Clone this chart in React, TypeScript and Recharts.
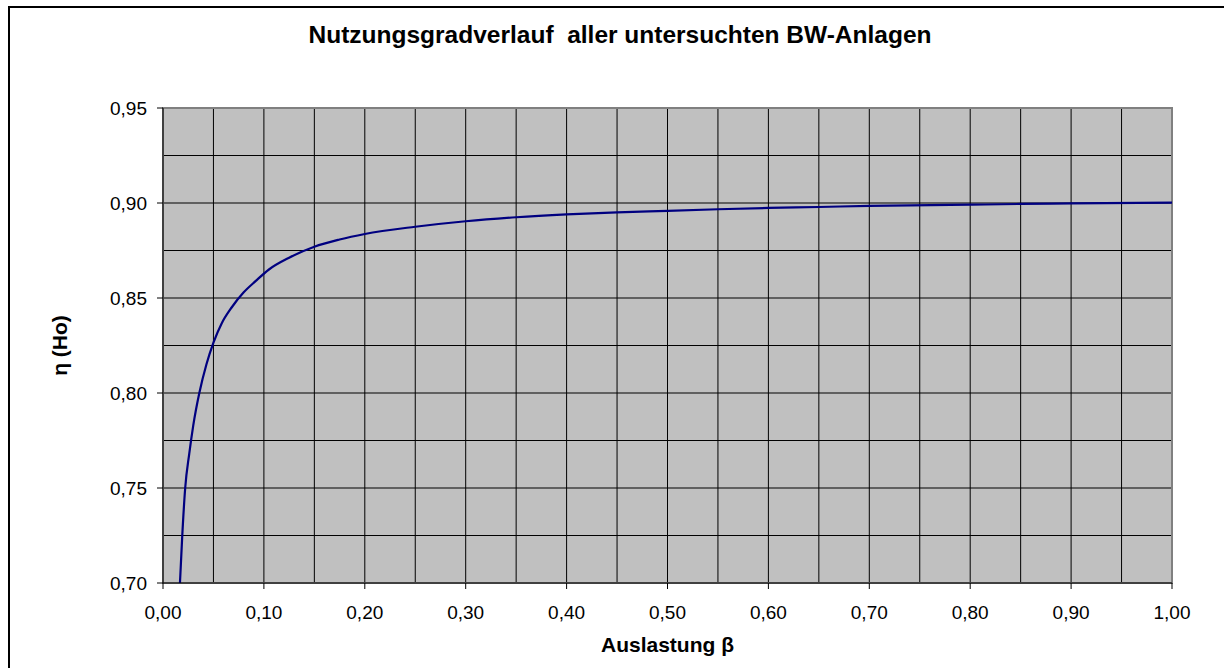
import React from 'react';
import { LineChart, Line, XAxis, YAxis, CartesianGrid, ReferenceArea } from 'recharts';

const betaValues = [0.0168, 0.019, 0.022, 0.026, 0.030, 0.036, 0.043, 0.05, 0.058, 0.068, 0.08, 0.092, 0.105, 0.125, 0.15, 0.175, 0.2, 0.25, 0.3, 0.35, 0.4, 0.45, 0.5, 0.55, 0.6, 0.65, 0.7, 0.8, 0.85, 0.9, 1.0];
const etaValues = [0.70, 0.724, 0.75, 0.768, 0.783, 0.80, 0.815, 0.8265, 0.8365, 0.8450, 0.8530, 0.8590, 0.8650, 0.8712, 0.8770, 0.8808, 0.8837, 0.8875, 0.8904, 0.8925, 0.894, 0.8951, 0.8959, 0.8967, 0.8974, 0.8979, 0.8985, 0.8991, 0.8995, 0.8998, 0.9002];

const xTicks = [0, 0.1, 0.2, 0.3, 0.4, 0.5, 0.6, 0.7, 0.8, 0.9, 1.0];
const yTicks = [0.70, 0.75, 0.80, 0.85, 0.90, 0.95];
const xGridTicks = [0, 0.05, 0.1, 0.15, 0.2, 0.25, 0.3, 0.35, 0.4, 0.45, 0.5, 0.55, 0.6, 0.65, 0.7, 0.75, 0.8, 0.85, 0.9, 0.95, 1.0];
const yGridTicks = [0.70, 0.725, 0.75, 0.775, 0.80, 0.825, 0.85, 0.875, 0.90, 0.925, 0.95];

const titleText = 'Nutzungsgradverlauf\u00a0 aller untersuchten BW-Anlagen';
const xLabel = 'Auslastung β';
const yLabel = 'η (Ho)';

const data = betaValues.map((x, i) => ({ x, y: etaValues[i] }));
const fmt = (v: number) => v.toFixed(2).replace('.', ',');
const font = '"Liberation Sans", Arial, sans-serif';

export default function App() {
  return (
    <div style={{ position: 'absolute', left: 0, top: 0, width: 1224, height: 668, overflow: 'hidden', background: '#fff', fontFamily: font }}>
      <div style={{ position: 'absolute', left: 8, top: 6, width: 1300, height: 800, border: '2px solid #000', boxSizing: 'border-box' }} />
      <div style={{ position: 'absolute', left: 0, top: 21, width: 1240, textAlign: 'center', fontWeight: 'bold', fontSize: 24.5, color: '#000', whiteSpace: 'pre' }}>
        {titleText}
      </div>
      <div style={{ position: 'absolute', left: 0, top: 0 }}>
        <LineChart width={1224} height={668} data={data} margin={{ top: 108, right: 52, bottom: 55, left: 0 }}>
          <XAxis xAxisId="grid" type="number" dataKey="x" domain={[0, 1]} ticks={xGridTicks} hide allowDataOverflow />
          <YAxis yAxisId="grid" type="number" domain={[0.7, 0.95]} ticks={yGridTicks} hide allowDataOverflow />
          <CartesianGrid xAxisId="grid" yAxisId="grid" fill="#C0C0C0" fillOpacity={1} stroke="#000" strokeWidth={1} />
          <ReferenceArea x1={0} x2={1} y1={0.7} y2={0.95} fill="none" stroke="#808080" strokeWidth={2} />
          <XAxis
            type="number"
            dataKey="x"
            domain={[0, 1]}
            ticks={xTicks}
            tickFormatter={fmt}
            height={30}
            tickSize={6}
            tickMargin={17}
            allowDataOverflow
            stroke="#000"
            tick={{ fill: '#000', fontSize: 19, fontFamily: font }}
            label={{ value: xLabel, position: 'bottom', offset: 24, style: { fill: '#000', fontWeight: 'bold', fontSize: 21, fontFamily: font } }}
          />
          <YAxis
            type="number"
            domain={[0.7, 0.95]}
            ticks={yTicks}
            tickFormatter={fmt}
            width={163}
            tickSize={6}
            tickMargin={10}
            allowDataOverflow
            stroke="#000"
            tick={{ fill: '#000', fontSize: 19, fontFamily: font }}
            label={{ value: yLabel, angle: -90, position: 'insideLeft', offset: 60, style: { textAnchor: 'middle', fill: '#000', fontWeight: 'bold', fontSize: 21, fontFamily: font } }}
          />
          <Line type="monotone" dataKey="y" stroke="#000080" strokeWidth={2.2} dot={false} isAnimationActive={false} />
        </LineChart>
      </div>
    </div>
  );
}
